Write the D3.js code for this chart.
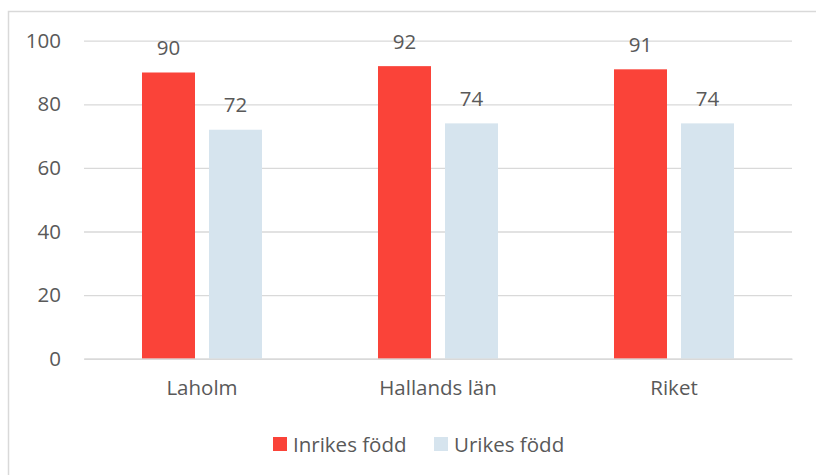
<!DOCTYPE html>
<html>
<head>
<meta charset="utf-8">
<script src="https://cdn.jsdelivr.net/npm/d3@7"></script>
<style>
  body { margin: 0; background: #fff; }
  svg text { font-family: "Open Sans", sans-serif; fill: #595959; }
</style>
</head>
<body>
<div id="chart"></div>
<script>
// Data
const categories = ["Laholm", "Hallands län", "Riket"];
const seriesNames = ["Inrikes född", "Urikes född"];
const inrikes = [90, 92, 91];
const urikes = [72, 74, 74];
const yTicks = [0, 20, 40, 60, 80, 100];
const colors = ["#FA4339", "#D6E4EE"];

const W = 816, H = 475;
const margin = {top: 40.7, right: 24, bottom: 116.3, left: 84},
    width = W - margin.left - margin.right,
    height = H - margin.top - margin.bottom;

const rows = categories.map(function(c, i) {
    return {cat: c, values: [inrikes[i], urikes[i]]};
});

const svg = d3.select("#chart").append("svg")
    .attr("width", W)
    .attr("height", H);

// outer frame
svg.append("rect")
    .attr("x", 8.5).attr("y", 11.5)
    .attr("width", W + 10).attr("height", H + 10)
    .attr("fill", "none")
    .attr("stroke", "#D9D9D9")
    .attr("stroke-width", 1.5);

const g = svg.append("g")
    .attr("transform", "translate(" + margin.left + "," + margin.top + ")");

// scales
const x0 = d3.scaleBand().domain(categories).range([0, width])
    .paddingInner(0.4915).paddingOuter(0.24575);
const x1 = d3.scaleBand().domain([0, 1]).range([0, x0.bandwidth()])
    .paddingInner(0.209).paddingOuter(0);
const y = d3.scaleLinear().domain([0, 100]).range([height, 0]);

const fs = "20.5px";

// gridlines + y labels
const yAxis = d3.axisLeft(y)
    .tickValues(yTicks)
    .tickSizeInner(-width)
    .tickSizeOuter(0)
    .tickPadding(23);
const ya = g.append("g").call(yAxis);
ya.select(".domain").remove();
ya.selectAll("line").attr("stroke", "#D9D9D9").attr("stroke-width", 1.3);
ya.selectAll("text")
    .style("font-size", fs)
    .attr("fill", "#595959");

// bars
const grp = g.selectAll(".grp")
    .data(rows)
    .enter().append("g")
    .attr("transform", function(d) { return "translate(" + x0(d.cat) + ",0)"; });

grp.selectAll("rect")
    .data(function(d) { return d.values.map(function(v, i) { return {i: i, v: v}; }); })
    .enter().append("rect")
    .attr("x", function(d) { return x1(d.i); })
    .attr("y", function(d) { return y(d.v); })
    .attr("width", x1.bandwidth())
    .attr("height", function(d) { return height - y(d.v); })
    .attr("fill", function(d) { return colors[d.i]; });

grp.selectAll("text.val")
    .data(function(d) { return d.values.map(function(v, i) { return {i: i, v: v}; }); })
    .enter().append("text")
    .attr("class", "val")
    .attr("x", function(d) { return x1(d.i) + x1.bandwidth() / 2; })
    .attr("y", function(d) { return y(d.v) - 17.5; })
    .attr("text-anchor", "middle")
    .style("font-size", fs)
    .text(function(d) { return d.v; });

// x axis
const xAxis = d3.axisBottom(x0).tickSize(0).tickPadding(22);
const xa = g.append("g")
    .attr("transform", "translate(0," + height + ")")
    .call(xAxis);
xa.select(".domain").attr("stroke", "#D9D9D9").attr("stroke-width", 1.5);
xa.selectAll("text")
    .style("font-size", fs)
    .attr("fill", "#595959");

// legend
const legendX = [273, 434];
const legend = svg.selectAll(".legend")
    .data(seriesNames)
    .enter().append("g")
    .attr("class", "legend")
    .attr("transform", function(d, i) { return "translate(" + legendX[i] + ",437)"; });
legend.append("rect")
    .attr("width", 14).attr("height", 14)
    .attr("fill", function(d, i) { return colors[i]; });
legend.append("text")
    .attr("x", 20)
    .attr("y", 14.5)
    .style("font-size", fs)
    .text(function(d) { return d; });
</script>
</body>
</html>
